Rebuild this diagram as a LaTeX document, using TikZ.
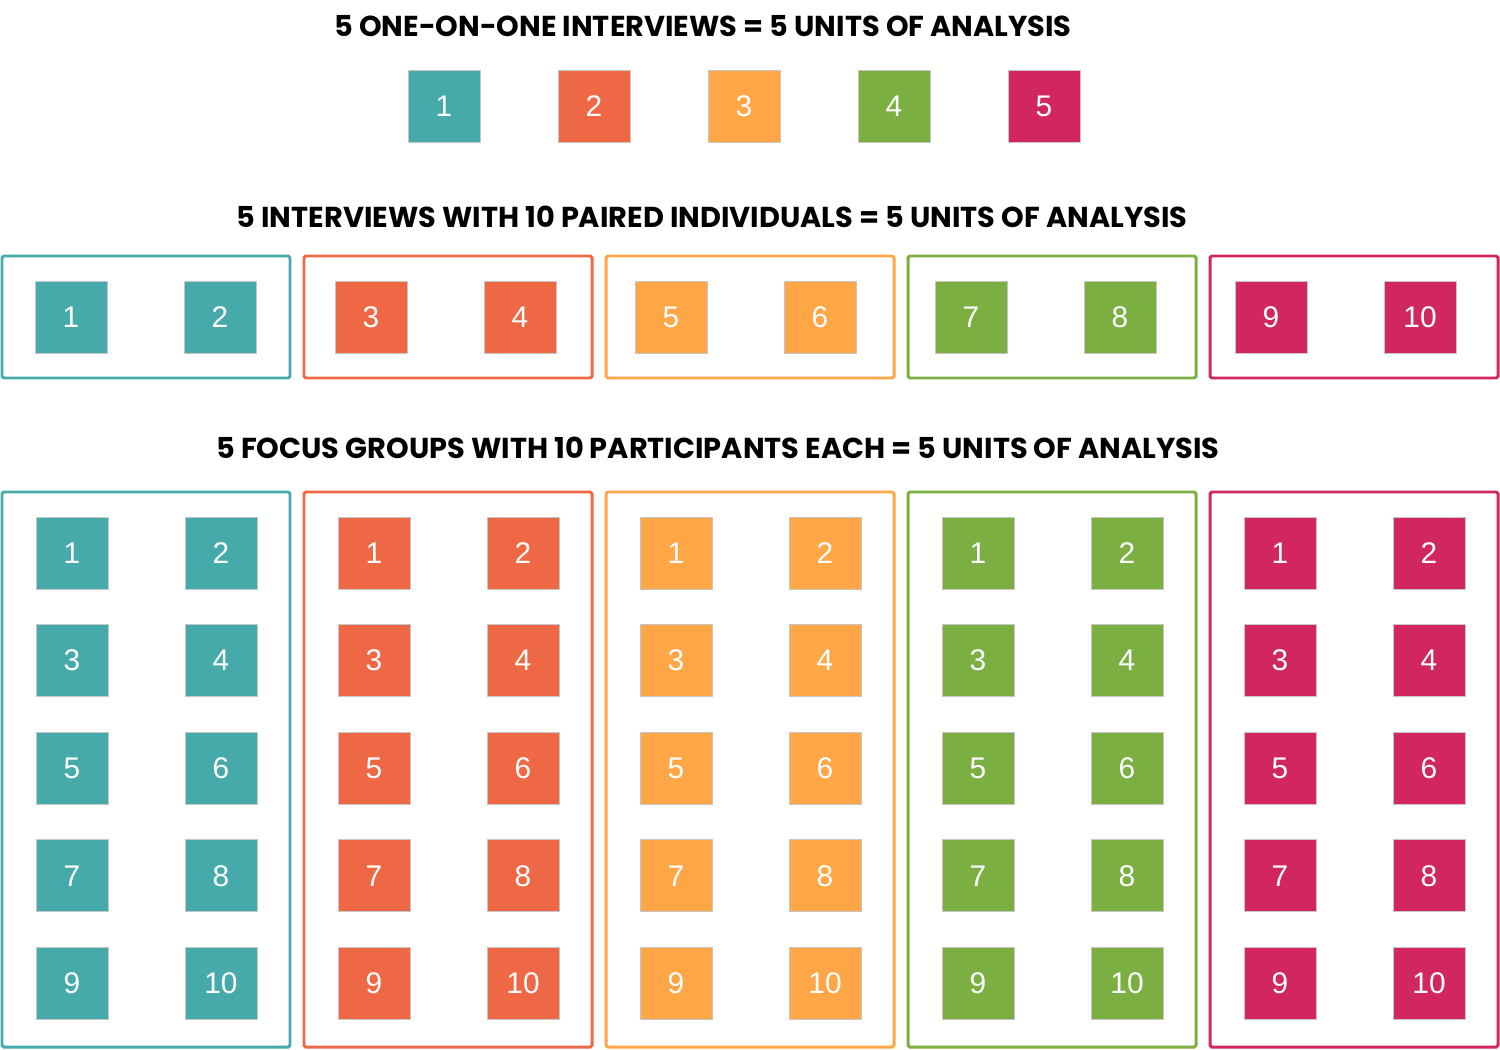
\documentclass[tikz,border=0pt]{standalone}
\usepackage{fontspec}
\setmainfont{Liberation Sans}
\newfontfamily\headfont{Poppins}

\definecolor{unitA}{HTML}{45AAA9}
\definecolor{unitB}{HTML}{EF6845}
\definecolor{unitC}{HTML}{FFA646}
\definecolor{unitD}{HTML}{7BAF42}
\definecolor{unitE}{HTML}{D2275E}

\tikzset{
  unit/.style={draw=gray!45, line width=0.4pt, minimum size=1.44cm, inner sep=0pt,
    text=white, font=\fontsize{17}{17}\selectfont},
  frame/.style={line width=1.7pt, rounded corners=1pt},
  heading/.style={font=\headfont\bfseries\fontsize{16.4}{16.4}\selectfont}
}

\begin{document}
\begin{tikzpicture}[x=0.02cm, y=-0.02cm]
    \useasboundingbox (0, 0) rectangle (1500, 1050);

    % one-on-one interviews
    \node [heading] (head-one) at (703, 26) {5 ONE-ON-ONE INTERVIEWS = 5 UNITS OF ANALYSIS};
    \foreach \c [count=\i] in {unitA, unitB, unitC, unitD, unitE} {
      \pgfmathsetmacro{\cx}{294 + 150*\i}
      \node [unit, fill=\c] (one-\i) at (\cx, 106) {\i};
    }

    % paired interviews
    \node [heading] (head-pair) at (712, 217) {5 INTERVIEWS WITH 10 PAIRED INDIVIDUALS = 5 UNITS OF ANALYSIS};
    \foreach \c [count=\i] in {unitA, unitB, unitC, unitD, unitE} {
      \pgfmathsetmacro{\bx}{2 + 302*(\i-1)}
      \pgfmathsetmacro{\sx}{71 + 300*(\i-1)}
      \pgfmathtruncatemacro{\na}{2*\i - 1}
      \pgfmathtruncatemacro{\nb}{2*\i}
      \draw [frame, \c] (\bx, 256) rectangle (\bx+288, 378);
      \node [unit, fill=\c] (pair-\na) at (\sx, 317) {\na};
      \node [unit, fill=\c] (pair-\nb) at (\sx+149, 317) {\nb};
    }

    % focus groups
    \node [heading] (head-grp) at (718, 448) {5 FOCUS GROUPS WITH 10 PARTICIPANTS EACH = 5 UNITS OF ANALYSIS};
    \foreach \c [count=\i] in {unitA, unitB, unitC, unitD, unitE} {
      \pgfmathsetmacro{\bx}{2 + 302*(\i-1)}
      \draw [frame, \c] (\bx, 492) rectangle (\bx+288, 1047);
      \foreach \r in {1, ..., 5} {
        \pgfmathsetmacro{\cy}{553 + 107.6*(\r-1)}
        \pgfmathtruncatemacro{\na}{2*\r - 1}
        \pgfmathtruncatemacro{\nb}{2*\r}
        \node [unit, fill=\c] (grp-\i-\na) at (\bx+70, \cy) {\na};
        \node [unit, fill=\c] (grp-\i-\nb) at (\bx+219, \cy) {\nb};
      }
    }
  \end{tikzpicture}
\end{document}
